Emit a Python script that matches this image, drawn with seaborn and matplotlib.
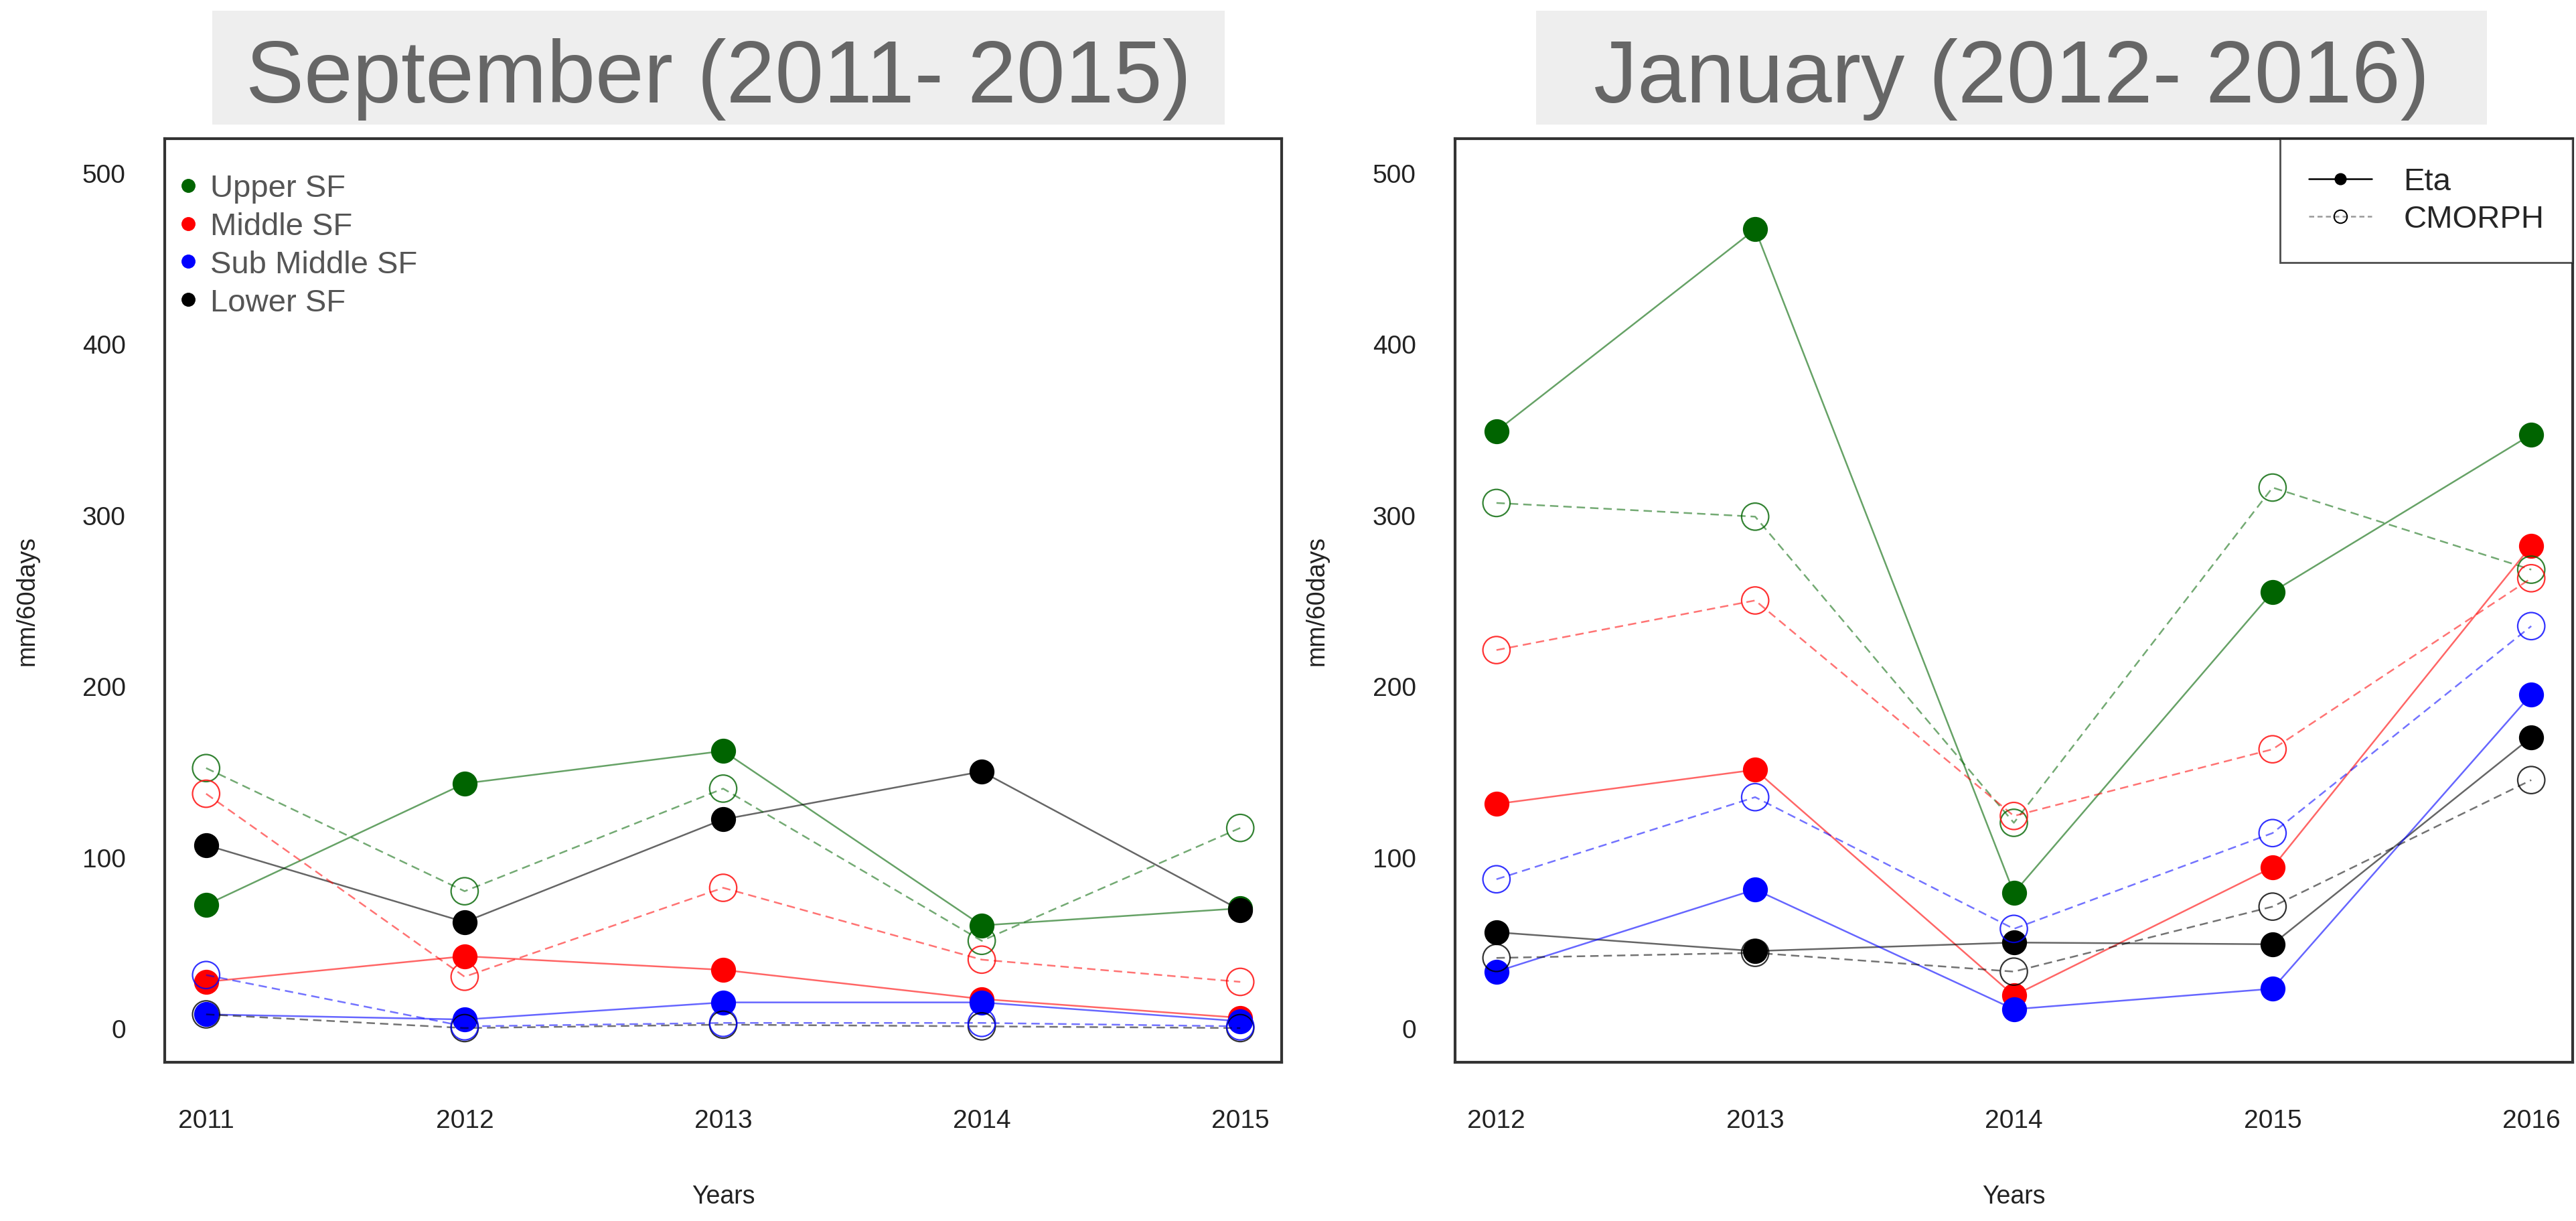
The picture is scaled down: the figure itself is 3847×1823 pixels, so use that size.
"""Eta vs CMORPH accumulated rainfall for the four SF sub-basins."""

import numpy as np
import pandas as pd
import matplotlib
matplotlib.use("Agg")
import matplotlib.pyplot as plt
from matplotlib.lines import Line2D
from matplotlib.patches import Rectangle
import seaborn as sns

# ---- data ----
regions = ["Upper SF", "Middle SF", "Sub Middle SF", "Lower SF"]
region_colors = ["#006400", "#ff0000", "#0000ff", "#000000"]
draw_order = ["Upper SF", "Middle SF", "Lower SF", "Sub Middle SF"]

sep_years = [2011, 2012, 2013, 2014, 2015]
sep_eta = {
    "Upper SF": [72, 143, 162, 60, 70],
    "Middle SF": [27, 42, 34, 17, 6],
    "Sub Middle SF": [8, 5, 15, 15, 4],
    "Lower SF": [107, 62, 122, 150, 69],
}
sep_cmorph = {
    "Upper SF": [152, 80, 140, 51, 117],
    "Middle SF": [137, 30, 82, 40, 27],
    "Sub Middle SF": [31, 1, 3, 3, 1],
    "Lower SF": [8, 0, 2, 1, 0],
}

jan_years = [2012, 2013, 2014, 2015, 2016]
jan_eta = {
    "Upper SF": [349, 467, 79, 255, 347],
    "Middle SF": [131, 151, 19, 94, 282],
    "Sub Middle SF": [33, 81, 11, 23, 195],
    "Lower SF": [56, 45, 50, 49, 170],
}
jan_cmorph = {
    "Upper SF": [307, 299, 120, 316, 268],
    "Middle SF": [221, 250, 124, 163, 263],
    "Sub Middle SF": [87, 135, 58, 114, 235],
    "Lower SF": [41, 44, 33, 71, 145],
}

panel_titles = ["September (2011- 2015)", "January (2012- 2016)"]
y_ticks = [0, 100, 200, 300, 400, 500]


def to_frame(years, eta, cmorph):
    rows = []
    for source, table in (("Eta", eta), ("CMORPH", cmorph)):
        for region, vals in table.items():
            for yr, v in zip(years, vals):
                rows.append({"year": yr, "value": v, "region": region, "source": source})
    return pd.DataFrame(rows)


def draw_panel(ax, df, years):
    color_of = dict(zip(regions, region_colors))
    z = 3
    for source in ["Eta", "CMORPH"]:
        for region in draw_order:
            sub = df[(df.source == source) & (df.region == region)]
            col = color_of[region]
            sns.lineplot(data=sub, x="year", y="value", ax=ax, color=col,
                         linewidth=1.8, alpha=0.6 if source == "Eta" else 0.55,
                         linestyle="-" if source == "Eta" else (0, (5, 3)),
                         legend=False, zorder=z)
            if source == "Eta":
                sns.scatterplot(data=sub, x="year", y="value", ax=ax, color=col,
                                s=720, edgecolor=col, linewidth=0, legend=False,
                                zorder=z + 1)
            else:
                sns.scatterplot(data=sub, x="year", y="value", ax=ax, color=col,
                                facecolor="none", edgecolor=col, s=850,
                                linewidth=1.6, alpha=0.8, legend=False,
                                zorder=z + 1)
            z += 2

    ax.set_xlim(years[0] - 0.16, years[-1] + 0.16)
    ax.set_ylim(-20, 520)
    ax.set_xticks(years)
    ax.set_xticklabels([str(y) for y in years])
    ax.set_yticks(y_ticks)
    ax.set_yticklabels([str(t) for t in y_ticks])

    ax.set_xlabel("Years", fontsize=27, color="#222222", va="center")
    ax.set_ylabel("mm/60days", fontsize=27, color="#222222", va="center")
    ax.xaxis.set_label_coords(0.5, -0.145)
    ax.yaxis.set_label_coords(-0.1235, 0.5)

    ax.tick_params(axis="x", length=21, width=1.5, color="#444444",
                   labelsize=28, labelcolor="#222222", pad=29)
    ax.tick_params(axis="y", length=22, width=3, color="#888888",
                   labelsize=28, labelcolor="#222222", pad=20)
    for sp in ax.spines.values():
        sp.set_visible(True)
        sp.set_color("#333333")
        sp.set_linewidth(3)
    ax.grid(False)


sns.set_theme(style="white")
plt.rcParams["font.family"] = ["Liberation Sans", "DejaVu Sans"]

fig = plt.figure(figsize=(38.47, 18.24), dpi=100)
W, H = 3847, 1824

ax_sep = fig.add_axes([246 / W, (H - 1587) / H, 1668 / W, 1379 / H])
ax_jan = fig.add_axes([2173 / W, (H - 1587) / H, 1669 / W, 1379 / H])

draw_panel(ax_sep, to_frame(sep_years, sep_eta, sep_cmorph), sep_years)
draw_panel(ax_jan, to_frame(jan_years, jan_eta, jan_cmorph), jan_years)

# title boxes
for (x0, x1), title in zip([(317, 1829), (2294, 3714)], panel_titles):
    fig.patches.append(Rectangle((x0 / W, (H - 187) / H), (x1 - x0) / W, 170 / H,
                                 transform=fig.transFigure, facecolor="#eeeeee",
                                 edgecolor="none", zorder=0))
    fig.text((x0 + x1) / 2 / W, (H - 153) / H, title, fontsize=94,
             color="#666666", ha="center", va="baseline")

# region legend (left panel)
reg_handles = [Line2D([], [], marker="o", linestyle="", color=c, markersize=14)
               for c in region_colors]
leg1 = ax_sep.legend(reg_handles, regions, loc="upper left",
                     bbox_to_anchor=(0.014, 0.962), frameon=False, fontsize=34,
                     handlelength=0.5, handletextpad=0.45, labelspacing=0.27,
                     borderpad=0, borderaxespad=0)
for t in leg1.get_texts():
    t.set_color("#555555")

# source legend (right panel)
src_handles = [
    Line2D([], [], color="black", linestyle="-", linewidth=1.8, marker="o",
           markersize=12),
    Line2D([], [], color="#999999", linestyle=(0, (3, 2)), linewidth=1.8,
           marker="o", markersize=14, markerfacecolor="none",
           markeredgecolor="black", markeredgewidth=1.5),
]
leg2 = ax_jan.legend(src_handles, ["Eta", "CMORPH"], loc="upper right",
                     frameon=True, fancybox=False, fontsize=34,
                     handlelength=2.0, handletextpad=1.0, labelspacing=0.25,
                     borderpad=0.9, borderaxespad=0)
leg2.get_frame().set_edgecolor("#222222")
leg2.get_frame().set_linewidth(2)

fig.savefig("out.png", dpi=100, facecolor="white")
